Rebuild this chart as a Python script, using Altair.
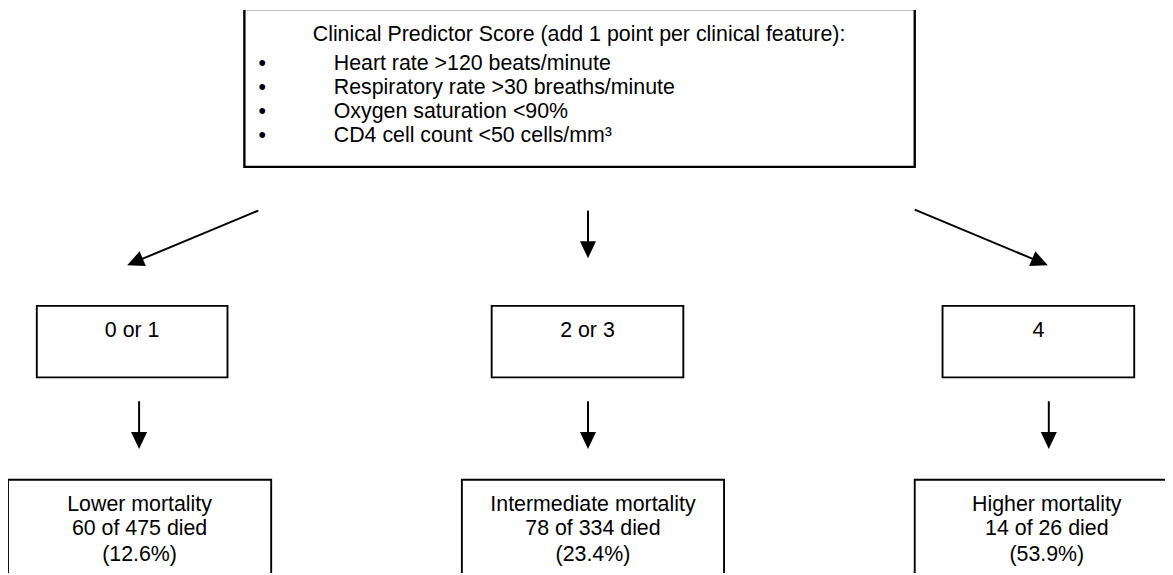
import altair as alt
import pandas as pd
import numpy as np

# ---- content ----
title_line = "Clinical Predictor Score (add 1 point per clinical feature):"
features = ["Heart rate >120 beats/minute",
            "Respiratory rate >30 breaths/minute",
            "Oxygen saturation <90%",
            "CD4 cell count <50 cells/mm³"]
scores = ["0 or 1", "2 or 3", "4"]
outcomes = [["Lower mortality", "60 of 475 died", "(12.6%)"],
            ["Intermediate mortality", "78 of 334 died", "(23.4%)"],
            ["Higher mortality", "14 of 26 died", "(53.9%)"]]

# ---- layout (diagram coordinates, page pixels) ----
top_box = dict(x=246, x2=921, y=7, y2=166)
title_x, title_y = 583, 33
feature_y = [62, 87, 111, 135]
bullet_x = 264
feature_x = 336
mid_box_x = [(37, 229), (495, 688), (949, 1142)]
mid_box_y = (306, 378)
mid_text_y = 331
low_box_x = [(8, 273), (465, 729), (921, 1187)]
low_box_y = (481, 620)
low_text_y = [507, 531, 557]
arrows1 = [((260, 210), (128, 265)), ((592, 210), (592, 258)), ((921, 209), (1055, 265))]
arrows2 = [((140, 402), (140, 450)), ((592, 402), (592, 450)), ((1056, 402), (1056, 450))]

FONT = "Liberation Sans"
FS = 21.5

# boxes
boxes = [dict(top_box, w=2.4)]
for (a, b) in mid_box_x:
    boxes.append(dict(x=a, x2=b, y=mid_box_y[0], y2=mid_box_y[1], w=1.9))
for (a, b) in low_box_x:
    boxes.append(dict(x=a, x2=b, y=low_box_y[0], y2=low_box_y[1], w=1.9))
boxes_df = pd.DataFrame(boxes)

# texts
center_t = [dict(x=title_x, y=title_y, t=title_line)]
left_t = []
for fy, f in zip(feature_y, features):
    center_t.append(dict(x=bullet_x, y=fy, t="•"))
    left_t.append(dict(x=feature_x, y=fy, t=f))
for (a, b), s in zip(mid_box_x, scores):
    center_t.append(dict(x=(a + b) / 2, y=mid_text_y, t=s))
for (a, b), lines in zip(low_box_x, outcomes):
    for ly, l in zip(low_text_y, lines):
        center_t.append(dict(x=(a + b) / 2, y=ly, t=l))
center_df = pd.DataFrame(center_t)
left_df = pd.DataFrame(left_t)

# arrows (custom arrowhead path in the -1..1 box, tip at top)
HEAD = "M0,-1L0.95,1L-0.95,1Z"
SYM = 17 ** 2
tip_off = np.sqrt(SYM) / 2
shafts, heads = [], []
for (p0, p1) in arrows1 + arrows2:
    dx, dy = p1[0] - p0[0], p1[1] - p0[1]
    L = np.hypot(dx, dy)
    ux, uy = dx / L, dy / L
    cx, cy = p1[0] - ux * tip_off, p1[1] - uy * tip_off
    shafts.append(dict(x=p0[0], y=p0[1], x2=cx, y2=cy))
    ang = float(np.degrees(np.arctan2(dx, -dy))) % 360
    heads.append(dict(x=cx, y=cy, ang=ang))
shaft_df = pd.DataFrame(shafts)
head_df = pd.DataFrame(heads)

W, H = 1165, 567
xs = alt.Scale(domain=[8, 8 + W], range=[0, W], nice=False, zero=False)
ys = alt.Scale(domain=[8, 8 + H], range=[0, H], nice=False, zero=False)
X = lambda f: alt.X(f, type="quantitative", scale=xs, axis=None)
Y = lambda f: alt.Y(f, type="quantitative", scale=ys, axis=None)

rects = alt.Chart(boxes_df).mark_rect(fill="white", stroke="black", clip=True).encode(
    x=X("x"), x2="x2", y=Y("y"), y2="y2",
    strokeWidth=alt.StrokeWidth("w:Q", scale=None))

txt_c = alt.Chart(center_df).mark_text(font=FONT, fontSize=FS, baseline="middle",
                                        align="center", color="black").encode(
    x=X("x"), y=Y("y"), text="t:N")
txt_l = alt.Chart(left_df).mark_text(font=FONT, fontSize=FS, baseline="middle",
                                      align="left", color="black").encode(
    x=X("x"), y=Y("y"), text="t:N")

rules = alt.Chart(shaft_df).mark_rule(color="black", strokeWidth=2).encode(
    x=X("x"), y=Y("y"), x2="x2", y2="y2")

pts = alt.Chart(head_df).mark_point(shape=HEAD, filled=True, color="black",
                                    size=SYM, opacity=1, strokeWidth=0).encode(
    x=X("x"), y=Y("y"), angle=alt.Angle("ang:Q", scale=None))

chart = alt.layer(rects, rules, pts, txt_c, txt_l).properties(
    width=W, height=H, padding=0, autosize="none",
    background="white").configure_view(stroke=None)

chart.save("out.html", embed_options={"renderer": "svg", "actions": False})
